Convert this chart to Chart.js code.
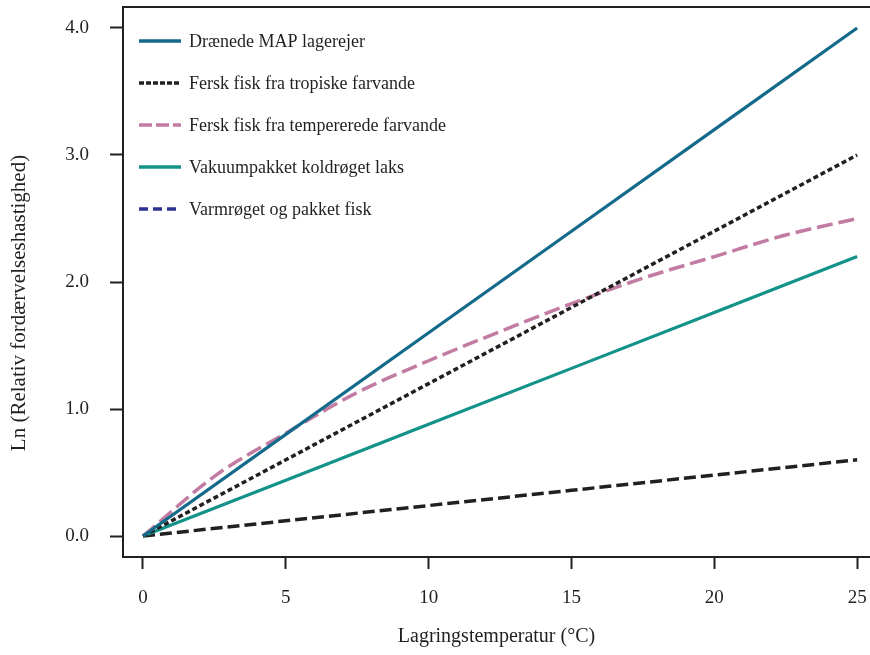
<!DOCTYPE html>
<html>
<head>
<meta charset="utf-8">
<script src="https://cdn.jsdelivr.net/npm/chart.js@4.4.0/dist/chart.umd.min.js"></script>
<style>
  html, body { margin: 0; padding: 0; background: #fff; }
  #wrap { width: 870px; height: 655px; }
</style>
</head>
<body>
<div id="wrap"><canvas id="chart"></canvas></div>
<script>
// values
const temps = [0, 5, 10, 15, 20, 25];
const tempsTempereret = [0, 2.5, 5, 7.5, 10, 12.5, 15, 17.5, 20, 22.5, 25];
const mapRejer = [0, 0.8, 1.6, 2.4, 3.2, 4.0];
const tropisk = [0, 0.6, 1.2, 1.8, 2.4, 3.0];
const tempereret = [0, 0.47, 0.81, 1.13, 1.38, 1.61, 1.83, 2.03, 2.20, 2.37, 2.50];
const koldroegetLaks = [0, 0.44, 0.88, 1.32, 1.76, 2.2];
const varmroeget = [0, 0.12, 0.24, 0.36, 0.48, 0.6];
const xTicks = [0, 5, 10, 15, 20, 25];
const yTicks = [0, 1, 2, 3, 4];

const INK = '#231f20';
const SERIF = "'Liberation Serif', 'DejaVu Serif', serif";

function pts(xs, ys) {
    return ys.map(function (y, i) { return { x: xs[i], y: y }; });
}

// fixed axis sizes, no extra room for half labels
function fixX(s) {
    s.height = 98;
    s.paddingLeft = 0;
    s.paddingRight = 0;
}
function fixY(s) {
    s.width = 123;
    s.paddingTop = 0;
    s.paddingBottom = 0;
}

// legend drawn inside the plot area, top left, plus the top frame line and y title
const frameAndLegend = {
    id: 'frameAndLegend',
    afterDraw(chart) {
        const ctx = chart.ctx;
        const area = chart.chartArea;
        ctx.save();
        ctx.strokeStyle = INK;
        ctx.lineWidth = 2;
        ctx.beginPath();
        ctx.moveTo(area.left - 1, area.top);
        ctx.lineTo(area.right + 2, area.top);
        ctx.stroke();

        ctx.font = '18px ' + SERIF;
        ctx.textBaseline = 'middle';
        ctx.fillStyle = INK;
        chart.data.datasets.forEach(function (ds, i) {
            const y = 41 + i * 42;
            ctx.strokeStyle = ds.legendColor || ds.borderColor;
            ctx.lineWidth = 3.5;
            ctx.setLineDash(ds.legendDash || []);
            ctx.beginPath();
            ctx.moveTo(139, y);
            ctx.lineTo(181, y);
            ctx.stroke();
            ctx.setLineDash([]);
            ctx.fillText(ds.label, 189, y + 1);
        });

        ctx.font = '21px ' + SERIF;
        ctx.textAlign = 'center';
        ctx.translate(19, 303);
        ctx.rotate(-Math.PI / 2);
        ctx.fillText('Ln (Relativ fordærvelseshastighed)', 0, 0);
        ctx.restore();
    }
};

new Chart(document.getElementById('chart'), {
    type: 'line',
    data: {
        datasets: [
            {
                label: 'Drænede MAP lagerejer',
                data: pts(temps, mapRejer),
                borderColor: '#136a8a',
                borderWidth: 3.2
            },
            {
                label: 'Fersk fisk fra tropiske farvande',
                data: pts(temps, tropisk),
                borderColor: INK,
                borderWidth: 3.5,
                borderDash: [5, 3],
                legendDash: [5, 2]
            },
            {
                label: 'Fersk fisk fra tempererede farvande',
                data: pts(tempsTempereret, tempereret),
                borderColor: '#c27ba2',
                borderWidth: 3.5,
                borderDash: [16, 6],
                legendDash: [13, 4],
                cubicInterpolationMode: 'monotone'
            },
            {
                label: 'Vakuumpakket koldrøget laks',
                data: pts(temps, koldroegetLaks),
                borderColor: '#139289',
                borderWidth: 3.2
            },
            {
                label: 'Varmrøget og pakket fisk',
                data: pts(temps, varmroeget),
                borderColor: INK,
                borderWidth: 3.5,
                borderDash: [12, 5],
                legendColor: '#2e3192',
                legendDash: [9, 5]
            }
        ]
    },
    options: {
        responsive: true,
        maintainAspectRatio: false,
        animation: false,
        events: [],
        layout: { autoPadding: false, padding: { top: 7, right: 0, bottom: 0, left: 0 } },
        elements: { point: { radius: 0 }, line: { fill: false, tension: 0 } },
        plugins: { legend: { display: false }, tooltip: { enabled: false } },
        scales: {
            x: {
                type: 'linear',
                min: -0.7,
                max: 25.45,
                afterFit: fixX,
                afterBuildTicks: function (s) { s.ticks = xTicks.map(function (v) { return { value: v }; }); },
                border: { display: true, color: INK, width: 2 },
                grid: { drawOnChartArea: false, drawTicks: true, tickLength: 12, tickWidth: 2, tickColor: INK, color: INK },
                ticks: { color: INK, font: { family: SERIF, size: 19 }, padding: 18, maxRotation: 0 },
                title: {
                    display: true,
                    text: 'Lagringstemperatur (°C)',
                    color: INK,
                    font: { family: SERIF, size: 20 },
                    padding: { top: 0, bottom: 6 }
                }
            },
            y: {
                type: 'linear',
                min: -0.165,
                max: 4.165,
                afterFit: fixY,
                afterBuildTicks: function (s) { s.ticks = yTicks.map(function (v) { return { value: v }; }); },
                border: { display: true, color: INK, width: 2 },
                grid: { drawOnChartArea: false, drawTicks: true, tickLength: 13, tickWidth: 2, tickColor: INK, color: INK },
                ticks: {
                    color: INK,
                    font: { family: SERIF, size: 19 },
                    padding: 21,
                    callback: function (v) { return v.toFixed(1); }
                }
            }
        }
    },
    plugins: [frameAndLegend]
});
</script>
</body>
</html>
